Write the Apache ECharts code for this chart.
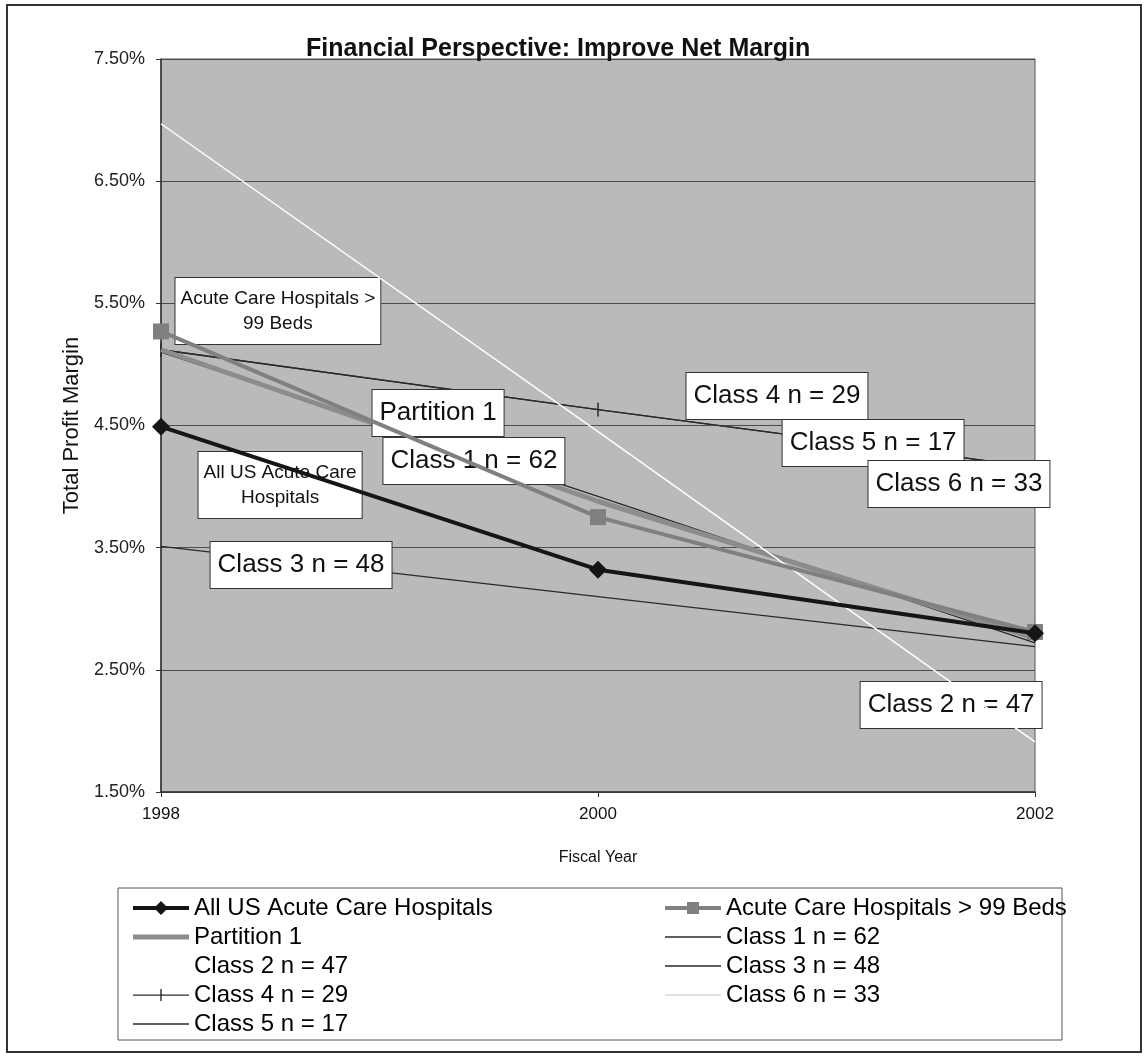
<!DOCTYPE html>
<html><head><meta charset="utf-8">
<script src="https://cdn.jsdelivr.net/npm/echarts@6/dist/echarts.min.js"></script>
<style>html,body{margin:0;padding:0;background:#fff}#c{width:1148px;height:1060px}</style>
</head><body><div id="c"></div>
<script>
// ---- data ----
const years = [1998, 2000, 2002];
const allUS      = [4.49, 3.32, 2.80];
const beds99     = [5.27, 3.75, 2.81];
const partition1 = [5.12, 3.88, 2.76];
const class1     = [5.10, 3.92, 2.72];
const class2     = [6.97, 4.45, 1.91];
const class3     = [3.51, 3.10, 2.69];
const class4     = [5.12, 4.63, 4.16];
const class6     = [5.12, 4.63, 4.16];
const class5     = [5.12, 4.63, 4.16];
const seriesNames = ['All US Acute Care Hospitals', 'Acute Care Hospitals > 99 Beds', 'Partition 1',
  'Class 1 n = 62', 'Class 2 n = 47', 'Class 3 n = 48', 'Class 4 n = 29', 'Class 6 n = 33', 'Class 5 n = 17'];
const legendLeft = ['All US Acute Care Hospitals', 'Partition 1', 'Class 2 n = 47', 'Class 4 n = 29', 'Class 5 n = 17'];
const legendRight = ['Acute Care Hospitals > 99 Beds', 'Class 1 n = 62', 'Class 3 n = 48', 'Class 6 n = 33'];
// annotation boxes: text, anchor year, anchor value, font size
const noteTexts  = ['Acute Care Hospitals >\n99 Beds', 'All US Acute Care\nHospitals', 'Partition 1', 'Class 1 n = 62',
  'Class 3 n = 48', 'Class 4 n = 29', 'Class 5 n = 17', 'Class 6 n = 33', 'Class 2 n = 47'];
const noteYears  = [1998.535, 1998.545, 1999.268, 1999.432, 1998.641, 2000.819, 2001.259, 2001.652, 2001.616];
const noteValues = [5.437, 4.013, 4.602, 4.21, 3.358, 4.742, 4.357, 4.021, 2.212];
const noteSizes  = [19, 19, 26, 26, 26, 26, 26, 26, 26];

const FONT = '"Liberation Sans", Arial, sans-serif';
const pairs = arr => years.map((y, i) => [y, arr[i]]);

const THIN = 'path://M0,6.4h56v1.3h-56z';
const styles = {
  'All US Acute Care Hospitals': {color: '#151515', width: 4, symbol: 'diamond', size: 18,
    icon: 'path://M0,5h56v4h-56z M28,0L35,7L28,14L21,7z'},
  'Acute Care Hospitals > 99 Beds': {color: '#808080', width: 4, symbol: 'rect', size: 16,
    icon: 'path://M0,5h56v4h-56z M22,1h12v12h-12z'},
  'Partition 1': {color: '#8c8c8c', width: 5, symbol: 'none', size: 0, icon: 'path://M0,4.5h56v5h-56z'},
  'Class 1 n = 62': {color: '#2a2a2a', width: 1.3, symbol: 'none', size: 0, icon: THIN},
  'Class 2 n = 47': {color: '#ffffff', width: 1.5, symbol: 'none', size: 0, icon: THIN},
  'Class 3 n = 48': {color: '#2a2a2a', width: 1.3, symbol: 'none', size: 0, icon: THIN},
  'Class 4 n = 29': {color: '#2a2a2a', width: 1.3, symbol: 'rect', size: [1.5, 14],
    icon: 'path://M0,6.4h56v1.3h-56z M27.3,1h1.4v12h-1.4z'},
  'Class 6 n = 33': {color: '#d6d6d6', width: 1.3, symbol: 'none', size: 0, icon: THIN},
  'Class 5 n = 17': {color: '#2a2a2a', width: 1.3, symbol: 'none', size: 0, icon: THIN}
};
const dataMap = {
  'All US Acute Care Hospitals': allUS, 'Acute Care Hospitals > 99 Beds': beds99, 'Partition 1': partition1,
  'Class 1 n = 62': class1, 'Class 2 n = 47': class2, 'Class 3 n = 48': class3,
  'Class 4 n = 29': class4, 'Class 6 n = 33': class6, 'Class 5 n = 17': class5
};
const zOrder = {'Class 6 n = 33': 1, 'Class 5 n = 17': 2, 'Class 4 n = 29': 3, 'Class 3 n = 48': 3, 'Class 1 n = 62': 3,
  'Partition 1': 4, 'Class 2 n = 47': 5, 'Acute Care Hospitals > 99 Beds': 6, 'All US Acute Care Hospitals': 7};

const series = seriesNames.map(n => {
  const s = styles[n];
  return {
    name: n, type: 'line', data: pairs(dataMap[n]), z: zOrder[n],
    symbol: s.symbol, symbolSize: s.size, showSymbol: s.symbol !== 'none',
    lineStyle: {color: s.color, width: s.width},
    itemStyle: {color: s.color, borderWidth: 0},
    emphasis: {disabled: true}, silent: true
  };
});
series.push({
  name: 'notes', type: 'scatter', data: [], z: 20, silent: true,
  markPoint: {
    symbol: 'circle', symbolSize: 1, itemStyle: {color: 'rgba(0,0,0,0)'}, animation: false,
    data: noteTexts.map((t, i) => ({
      coord: [noteYears[i], noteValues[i]],
      label: {
        show: true, position: 'inside', formatter: t, fontFamily: FONT,
        fontSize: noteSizes[i], lineHeight: noteSizes[i] === 19 ? 25 : 30, color: '#111',
        backgroundColor: '#ffffff', borderColor: '#333', borderWidth: 1,
        padding: noteSizes[i] === 19 ? [8, 5] : [8, 7], align: 'center'
      }
    }))
  }
});

const legendItems = names => names.map(n => ({name: n, icon: styles[n].icon}));
const legendCommon = {
  orient: 'vertical', itemWidth: 56, itemHeight: 14, itemGap: 5, padding: 0,
  textStyle: {fontFamily: FONT, fontSize: 24, color: '#000'},
  selectedMode: false
};

const chart = echarts.init(document.getElementById('c'), null, {renderer: 'canvas'});
chart.setOption({
  animation: false,
  backgroundColor: '#ffffff',
  title: {
    text: 'Financial Perspective: Improve Net Margin', left: 306, top: 37, padding: 0,
    textStyle: {fontFamily: FONT, fontSize: 25, fontWeight: 'bold', color: '#111'}
  },
  graphic: [
    {type: 'rect', shape: {x: 7, y: 5, width: 1134, height: 1047}, style: {fill: 'none', stroke: '#333', lineWidth: 2}, z: -10},
    {type: 'rect', shape: {x: 118, y: 888, width: 944, height: 152}, style: {fill: '#fff', stroke: '#555', lineWidth: 1}, z: -5}
  ],
  legend: [
    Object.assign({}, legendCommon, {data: legendItems(legendLeft), left: 133, top: 896}),
    Object.assign({}, legendCommon, {data: legendItems(legendRight), left: 665, top: 896})
  ],
  grid: {left: 161, top: 59, right: 113, bottom: 268, show: true, backgroundColor: '#bababa', borderColor: '#555', borderWidth: 1},
  xAxis: {
    type: 'value', min: 1998, max: 2002, interval: 2,
    name: 'Fiscal Year', nameLocation: 'middle', nameGap: 58,
    nameTextStyle: {fontFamily: FONT, fontSize: 16, color: '#111'},
    axisLine: {show: true, lineStyle: {color: '#333', width: 1.5}},
    axisTick: {show: true, length: 5, lineStyle: {color: '#333'}},
    axisLabel: {fontFamily: FONT, fontSize: 17, color: '#111', margin: 14, formatter: v => String(v)},
    splitLine: {show: false}
  },
  yAxis: {
    type: 'value', min: 1.5, max: 7.5, interval: 1,
    name: 'Total Profit Margin', nameLocation: 'middle', nameGap: 78, nameRotate: 90,
    nameTextStyle: {fontFamily: FONT, fontSize: 22, color: '#111'},
    axisLine: {show: true, lineStyle: {color: '#333', width: 1.5}},
    axisTick: {show: true, length: 5, lineStyle: {color: '#333'}},
    axisLabel: {fontFamily: FONT, fontSize: 18, color: '#222', margin: 16, formatter: v => v.toFixed(2) + '%'},
    splitLine: {show: true, lineStyle: {color: '#4d4d4d', width: 1}}
  },
  series: series
});
</script></body></html>
